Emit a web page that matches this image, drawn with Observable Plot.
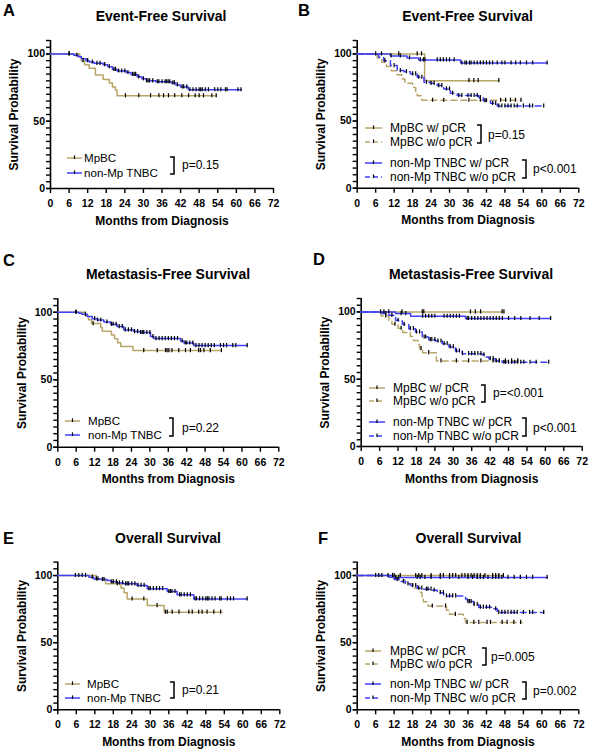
<!DOCTYPE html>
<html><head><meta charset="utf-8">
<script src="https://cdn.jsdelivr.net/npm/d3@7"></script>
<script src="https://cdn.jsdelivr.net/npm/@observablehq/plot@0.6"></script>
<style>
body{margin:0;background:#fff;}
#root{position:relative;width:591px;height:750px;overflow:hidden;background:#fff;font-family:"Liberation Sans",Arial,sans-serif;}
.panel{position:absolute;}
</style></head>
<body><div id="root"></div>
<script>
// ---------- tick labels ----------
const xTicks = [0,6,12,18,24,30,36,42,48,54,60,66,72];
const yTicks = [0,50,100];
const yMinor = [0,5,10,15,20,25,30,35,40,45,50,55,60,65,70,75,80,85,90,95,100,105,110];

// ---------- labels ----------
const titles = ["Event-Free Survival","Event-Free Survival","Metastasis-Free Survival","Metastasis-Free Survival","Overall Survival","Overall Survival"];
const letters = ["A","B","C","D","E","F"];
const labels2 = ["MpBC","non-Mp TNBC"];
const labels4 = ["MpBC w/ pCR","MpBC w/o pCR","non-Mp TNBC w/ pCR","non-Mp TNBC w/o pCR"];
const pA = ["p=0.15"], pB = ["p=0.15","p<0.001"], pC = ["p=0.22"], pD = ["p=<0.001","p<0.001"], pE = ["p=0.21"], pF = ["p=0.005","p=0.002"];
const colorMp = "#b8a669", colorTn = "#4040f8";

// ---------- Panel A: Event-free, MpBC vs non-Mp TNBC ----------
const A_mp_t = [0,9.5,10,11,12.5,14.5,17,19,20,21,21.5];
const A_mp_s = [100,97.5,95,92,89.3,84.3,81,78.5,75.5,73,68.9];
const A_mp_end = 53.5;
const A_mp_c = [6,10.5,24.2,28.5,32.3,35,36.5,38.1,40.1,42.4,44.6,46.7,48,49.4,52.1,53.5];
const A_tn_t = [0,7.5,9,10,11.5,12.5,14,17,18.5,20,21.5,24.5,26,28,29.5,31,34,39,40.5,42,44.5];
const A_tn_s = [100,99,98,96.5,95,94,93,92,90.5,88.5,87.3,86.2,84.8,83,81.5,80,79.3,78.5,77,75.5,73.4];
const A_tn_end = 61.5;
const A_tn_c = [6,8.5,12,13.5,15,16,17.5,19,20.5,21,22,23,24,25,26.5,27,27.5,28.5,30,31,31.5,32,33,34.5,35,36,37,37.5,38,38.5,39.5,40,41,42.5,43,44,45,46,47,48,48.5,49,50,51,53,54,55,56.5,57,60.5,61.5];

// ---------- Panel B: Event-free by pCR ----------
const B_mpY_t = [0,21.9], B_mpY_s = [100,80.1], B_mpY_end = 46;
const B_mpY_c = [6,7.9,13.5,19.5,20.9,36.3,37.9,39.3,46];
const B_mpN_t = [0,6.5,8,9.5,11,13,14.5,15.5,18,19,19.5,21];
const B_mpN_s = [100,96.9,93.8,90.6,87.5,84.4,81.3,78.1,75,71.9,68.8,65.5];
const B_mpN_end = 53.5;
const B_mpN_c = [24.5,28.1,36.3,40,46.6,48.2,49.8,51.4,53.2];
const B_tnY_t = [0,10.8,16.2,20,33.6], B_tnY_s = [100,98.5,97,95.5,93.2], B_tnY_end = 61.7;
const B_tnY_c = [11,14,17,20.5,21.5,22,26,27,28,29,30,31.5,34,35,35.5,36.5,37,38,39,40,41,42,43,44,45.5,47,48,50,51.5,53,55,57,61.7];
const B_tnN_t = [0,7,8.6,10.8,13,15.2,17.3,19.5,21.7,23.8,26,28.1,30.3,32.5,39.5,41,43.3,45.5];
const B_tnN_s = [100,97.5,95,91.3,87.6,86.8,85.1,82.6,78.9,78.1,76.4,73.9,70.7,69,67.5,65.2,63.2,61.2];
const B_tnN_end = 60.6;
const B_tnN_c = [9,12,14,16,18,19,20,21,22.5,24,25,26.5,27.5,29,30,31,33,34,36,37,38,39,40,41.5,42,44,45,46,47,48,49,50,51,52,54,56,57,60.6];

// ---------- Panel C: Metastasis-free, MpBC vs non-Mp TNBC ----------
const C_mp_t = [0,9,10,11,14,14.5,17.5,18.5,19.5,20.5,24.5];
const C_mp_s = [100,97.2,94.4,91.6,88.8,85.9,83.1,80.3,77.5,74.6,71.6];
const C_mp_end = 53.3;
const C_mp_c = [6,11.5,28,32.4,35.1,35.6,36.2,37.2,39.4,41.6,43.2,45.9,46.5,47.6,49.7,53.3];
const C_tn_t = [0,6.8,7.9,9.6,11.2,12.8,15,17.2,19.3,21.5,24.8,26.9,30.2,31.3,40,41.1,44.3];
const C_tn_s = [100,99.3,98.5,96.8,95.3,94.3,92.8,91.1,89.4,86.9,85.7,85,82,80.5,78.8,77.2,75.3];
const C_tn_end = 61.7;
const C_tn_c = [5.8,9,12,13,14,16,17.5,18,19,20,21,22,23,24,25,26,27,27.5,28,29,30,31,32,33,34,35,36,37,38,39,40.5,41.5,42,43,44,45,46,47,48,49,50,51,53,54,55,57,58,61.7];

// ---------- Panel D: Metastasis-free by pCR ----------
const D_mpY_t = [0], D_mpY_s = [100], D_mpY_end = 46.5;
const D_mpY_c = [6.3,7.4,9,13.3,19.9,20.4,35.6,37.2,38.9,45.9,46.5];
const D_mpN_t = [0,6.5,9,10,12,13.5,16,17,18.5,19,20,24.5];
const D_mpN_s = [100,97,93.9,90.9,87.9,84.8,81.8,78.8,75.8,72.7,69.7,63.6];
const D_mpN_end = 51;
const D_mpN_c = [8,11,13,19.5,22,26,31,35,39,43,45,47,49,51];
const D_tnY_t = [0,11.2,16.1,34], D_tnY_s = [100,98.8,96.8,95.1], D_tnY_end = 61.7;
const D_tnY_c = [13,14.5,20,21,22,23,24,27,28,29,30,31,32,34.5,35,36,37,38,39,40,41,42,43,44,45,46,48,50,52,55,58,61.7];
const D_tnN_t = [0,6.8,9,11.2,13.4,15.5,17.7,19.9,22,24.2,26.4,28.6,30.7,32.9,39.4,40.5,41.6,43.8,45.9];
const D_tnN_s = [100,98.8,97.5,93.8,90.8,87.6,85.1,81.4,79.4,78.4,76.4,74,71,69,68.2,66.5,65.3,63.5,62.6];
const D_tnN_end = 61.1;
const D_tnN_c = [8,10,12,14,16,17,18,19,20.5,21,22.5,23,24,25,26,27,28,29,30,31,32,33,35,36,37,38,39,40,42,43,44,45,46.5,47,48,49,50,51,52,53,55,57,61.1];

// ---------- Panel E: Overall, MpBC vs non-Mp TNBC ----------
const E_mp_t = [0,12.5,15.5,20.5,21.5,22.5,29,34.5];
const E_mp_s = [100,97.2,93.9,90.6,87.2,82.5,77.6,72.7];
const E_mp_end = 53.3;
const E_mp_c = [6.8,7.9,9,19.3,24.1,27.9,32.2,34.9,35.5,37.1,39.3,42.5,43.6,45.7,46.8,48.4,50.6,52.8];
const E_tn_t = [0,10.1,11.7,14,16,17.1,19.3,21.4,25.7,29,35.5,38.7,44.1];
const E_tn_s = [100,98.8,97.5,97,96.3,95.3,94.5,93.8,92.6,90.2,88.1,85.6,82.6];
const E_tn_end = 61.4;
const E_tn_c = [5.7,11.2,12.5,13,14.5,15,17.5,18,19,20,21,22,22.5,23,24,25,26,27,28,29.5,30,31,32,33,34,36,36.5,37,38,39.5,40,41,42,43,44.5,45,46,47,48,48.5,49,50,51,52.5,53,55,56,57,61.4];

// ---------- Panel F: Overall by pCR ----------
const F_mpY_t = [0], F_mpY_s = [100], F_mpY_end = 47.5;
const F_mpY_c = [6,7,8,10,11.5,14,19,20,21,24,27,28,30,31,32,34,35,36,37,38,39,40,41.5,44,45,46,47.5];
const F_mpN_t = [0,13,15.5,18,20.5,21,21.5,23,29,30,34.5,35.2];
const F_mpN_s = [100,96.9,93.8,90.6,87.5,84.4,80.5,77.3,74.2,71.1,68,65.1];
const F_mpN_end = 53.6;
const F_mpN_c = [12,24.4,28.7,31.9,35.7,37.9,39.5,42.2,43.3,47.1,48.7,50.9,53.1];
const F_tnY_t = [0,11.6], F_tnY_s = [100,98.6], F_tnY_end = 61.7;
const F_tnY_c = [12.5,13.5,19.5,20.5,22,24,27,30,33,36,37.5,39,40,41,42.5,44,45,46,47,49,51,53,55,57,61.7];
const F_tnN_t = [0,10.3,12,14,15.7,17.3,19.5,21.6,24.4,26,28.1,35.2,35.8,37.9,39.5,44.4,45.5];
const F_tnN_s = [100,98.8,97,95.5,93.8,92.5,90.6,89.8,89,87.2,84.8,82.6,80.6,78.5,76.4,75.2,72.5];
const F_tnN_end = 60.6;
const F_tnN_c = [13,15,16.5,18,19,20,21,22.5,23,24,25,27,28,29,30,31,32,36,36.5,37,38,39,40,41,42,43,45,46,47,48,49,50,51,52,54,56,57,60.6];

// ---------- helpers ----------
function curve(t, s, end, cens, color, dashed) { return {t, s, end, cens, color, dashed}; }
function survAt(c, time) { let v = c.s[0]; for (let i = 0; i < c.t.length; i++) if (c.t[i] <= time) v = c.s[i]; return v; }
const tickSymbol = { draw(ctx, size) { const h = Math.sqrt(size / Math.PI); ctx.moveTo(0, -h); ctx.lineTo(0, h * 0.6); } };

const panels = [
  {box:[0,0,295,245], m:[40,22,57,50], curves:[
    curve(A_mp_t,A_mp_s,A_mp_end,A_mp_c,colorMp,false),
    curve(A_tn_t,A_tn_s,A_tn_end,A_tn_c,colorTn,false)]},
  {box:[295,0,296,245], m:[40,12.7,57.3,61.7], curves:[
    curve(B_mpY_t,B_mpY_s,B_mpY_end,B_mpY_c,colorMp,false),
    curve(B_mpN_t,B_mpN_s,B_mpN_end,B_mpN_c,colorMp,true),
    curve(B_tnY_t,B_tnY_s,B_tnY_end,B_tnY_c,colorTn,false),
    curve(B_tnN_t,B_tnN_s,B_tnN_end,B_tnN_c,colorTn,true)]},
  {box:[0,245,295,250], m:[53.3,16.7,48.3,57.3], curves:[
    curve(C_mp_t,C_mp_s,C_mp_end,C_mp_c,colorMp,false),
    curve(C_tn_t,C_tn_s,C_tn_end,C_tn_c,colorTn,false)]},
  {box:[295,245,296,250], m:[53,9.3,49,65.7], curves:[
    curve(D_mpY_t,D_mpY_s,D_mpY_end,D_mpY_c,colorMp,false),
    curve(D_mpN_t,D_mpN_s,D_mpN_end,D_mpN_c,colorMp,true),
    curve(D_tnY_t,D_tnY_s,D_tnY_end,D_tnY_c,colorTn,false),
    curve(D_tnN_t,D_tnN_s,D_tnN_end,D_tnN_c,colorTn,true)]},
  {box:[0,495,295,255], m:[66.6,15.7,40.7,57.3], curves:[
    curve(E_mp_t,E_mp_s,E_mp_end,E_mp_c,colorMp,false),
    curve(E_tn_t,E_tn_s,E_tn_end,E_tn_c,colorTn,false)]},
  {box:[295,495,296,255], m:[66.6,12.7,40.7,61.7], curves:[
    curve(F_mpY_t,F_mpY_s,F_mpY_end,F_mpY_c,colorMp,false),
    curve(F_mpN_t,F_mpN_s,F_mpN_end,F_mpN_c,colorMp,true),
    curve(F_tnY_t,F_tnY_s,F_tnY_end,F_tnY_c,colorTn,false),
    curve(F_tnN_t,F_tnN_s,F_tnN_end,F_tnN_c,colorTn,true)]}
];

const root = document.getElementById("root");

for (const p of panels) {
  const [left, top, w, h] = p.box;
  const [mt, mr, mb, ml] = p.m;
  const marks = [
    Plot.axisY(yMinor, {tickSize:4, tickFormat: () => "", strokeWidth:1.4, label:null}),
    Plot.axisY(yTicks, {tickSize:4, tickPadding:1.5, strokeWidth:1.4, label:null}),
    Plot.axisX(xTicks, {tickSize:5, tickPadding:6, strokeWidth:1.4, label:null}),
    Plot.ruleX([0], {stroke:"#000", strokeWidth:1.6}),
    Plot.ruleY([0], {stroke:"#000", strokeWidth:1.6}),
    Plot.text(["Months from Diagnosis"], {text: d => d, frameAnchor:"bottom", dy:36, lineAnchor:"bottom", fontSize:12, fontWeight:"bold", fill:"#000"}),
    Plot.text(["Survival Probability"], {text: d => d, frameAnchor:"left", dx:-32.3, rotate:-90, lineAnchor:"bottom", textAnchor:"middle", fontSize:12, fontWeight:"bold", fill:"#000"})
  ];
  for (const c of p.curves) {
    const pts = c.t.map((t, i) => ({t, s: c.s[i]}));
    pts.push({t: c.end, s: c.s[c.s.length - 1]});
    marks.push(Plot.line(pts, {x:"t", y:"s", curve:"step-after", stroke:c.color, strokeWidth:1.5, strokeDasharray: c.dashed ? "6,4" : undefined}));
  }
  for (const c of p.curves) {
    const cens = c.cens.map(t => ({t, s: survAt(c, t)}));
    marks.push(Plot.dot(cens, {x:"t", y:"s", symbol: tickSymbol, r:2.6, stroke:"#000", strokeWidth:1.2, fill:"none"}));
  }
  const svg = Plot.plot({
    width: w, height: h,
    marginTop: mt, marginRight: mr, marginBottom: mb, marginLeft: ml,
    x: {domain:[0,72]},
    y: {domain:[0,110]},
    style: {fontFamily:"'Liberation Sans', Arial, sans-serif", fontSize:"10.5px", fontWeight:"bold", color:"#000", background:"transparent", overflow:"visible"},
    marks
  });
  svg.classList.add("panel");
  svg.style.left = left + "px";
  svg.style.top = top + "px";
  root.appendChild(svg);
}

// ---------- overlay: letters, titles, legends ----------
const overlay = d3.create("svg").attr("width",591).attr("height",750)
  .style("position","absolute").style("left","0px").style("top","0px")
  .style("font-family","'Liberation Sans', Arial, sans-serif");

const titlePos = [[161,21],[467.5,21],[168,279],[471,279],[168,543],[468.5,543]];
const letterPos = [[3,16],[298,16],[3,266],[313,265],[3,544],[318,544]];
titles.forEach((t, i) => {
  overlay.append("text").attr("x", titlePos[i][0]).attr("y", titlePos[i][1]).attr("text-anchor","middle")
    .attr("font-size",14).attr("font-weight","bold").text(t);
  overlay.append("text").attr("x", letterPos[i][0]).attr("y", letterPos[i][1])
    .attr("font-size",16.5).attr("font-weight","bold").text(letters[i]);
});

const legends = [
  {x0:67, x1:82, tx:84, ys:[158,173], fs:11.6, labels:labels2, colors:[colorMp,colorTn], dash:[false,false],
   br:[{x:174,y0:157,y1:174,lx:182,ly:169}], p:pA},
  {x0:365, x1:382, tx:390, ys:[128,142,163,177], fs:12, labels:labels4, colors:[colorMp,colorMp,colorTn,colorTn], dash:[false,true,false,true],
   br:[{x:481,y0:125,y1:143,lx:488,ly:139},{x:526,y0:160,y1:178,lx:533,ly:173}], p:pB},
  {x0:65, x1:80, tx:88, ys:[421,435], fs:11.6, labels:labels2, colors:[colorMp,colorTn], dash:[false,false],
   br:[{x:173,y0:418,y1:436,lx:182,ly:432}], p:pC},
  {x0:369, x1:385, tx:393, ys:[388,401,422,436], fs:12, labels:labels4, colors:[colorMp,colorMp,colorTn,colorTn], dash:[false,true,false,true],
   br:[{x:485,y0:385,y1:402,lx:493,ly:397},{x:526,y0:418,y1:436,lx:533,ly:432}], p:pD},
  {x0:65, x1:80, tx:87, ys:[684,698], fs:11.6, labels:labels2, colors:[colorMp,colorTn], dash:[false,false],
   br:[{x:174,y0:682,y1:698,lx:182,ly:694}], p:pE},
  {x0:365, x1:381, tx:390, ys:[651,664,684,698], fs:12, labels:labels4, colors:[colorMp,colorMp,colorTn,colorTn], dash:[false,true,false,true],
   br:[{x:486,y0:648,y1:665,lx:491,ly:661},{x:526,y0:682,y1:699,lx:533,ly:695}], p:pF}
];

for (const L of legends) {
  L.ys.forEach((y, i) => {
    overlay.append("line").attr("x1",L.x0).attr("x2",L.x1).attr("y1",y).attr("y2",y)
      .attr("stroke",L.colors[i]).attr("stroke-width",1.5).attr("stroke-dasharray", L.dash[i] ? "5,3" : null);
    const mx = (L.x0 + L.x1) / 2;
    overlay.append("line").attr("x1",mx).attr("x2",mx).attr("y1",y-2.6).attr("y2",y+1)
      .attr("stroke","#000").attr("stroke-width",1.2);
    overlay.append("text").attr("x",L.tx).attr("y",y+4.3).attr("font-size",L.fs).text(L.labels[i]);
  });
  L.br.forEach((b, i) => {
    overlay.append("path").attr("d",`M${b.x-4},${b.y0}H${b.x}V${b.y1}H${b.x-4}`)
      .attr("fill","none").attr("stroke","#000").attr("stroke-width",1.5);
    overlay.append("text").attr("x",b.lx).attr("y",b.ly).attr("font-size",12).text(L.p[i]);
  });
}
root.appendChild(overlay.node());
</script>
</body></html>
